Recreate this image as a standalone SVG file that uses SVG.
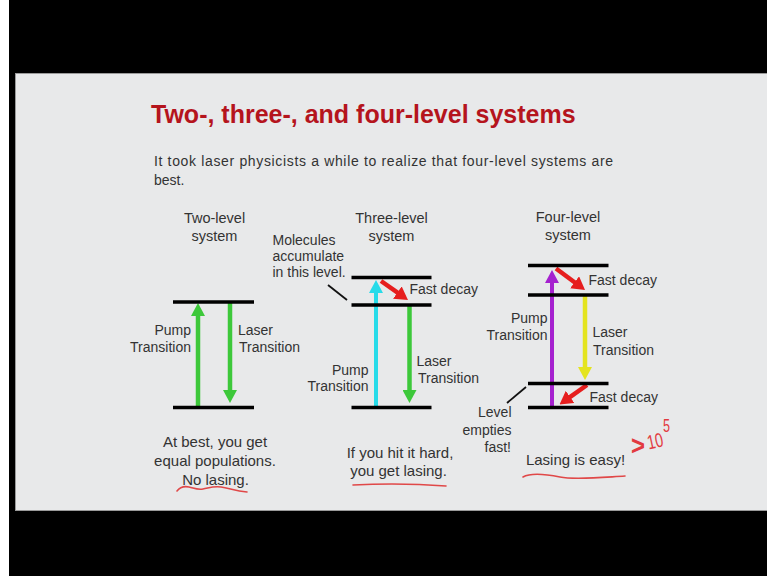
<svg xmlns="http://www.w3.org/2000/svg" width="767" height="576" viewBox="0 0 767 576">
<defs>
<style>
.t{font-family:"Liberation Sans",Arial,sans-serif;fill:#333;}
.s{font-size:14px;}
.h{font-size:14.5px;text-anchor:middle;}
.b{font-size:15px;text-anchor:middle;}
.e{text-anchor:end;}
.lvl{stroke:#000;stroke-width:3.5;fill:none;}
.ptr{stroke:#111;stroke-width:1.8;fill:none;}
.ink{stroke:#e04848;stroke-width:1.6;fill:none;stroke-linecap:round;}
.hw{font-family:"Liberation Sans",Arial,sans-serif;fill:#e23a40;}
</style>
<marker id="hG" markerUnits="userSpaceOnUse" markerWidth="13" markerHeight="14" refX="2" refY="7" orient="auto"><path d="M0,0 L13,7 L0,14 z" fill="#3dc83a"/></marker>
<marker id="hC" markerUnits="userSpaceOnUse" markerWidth="13" markerHeight="14" refX="2" refY="7" orient="auto"><path d="M0,0 L13,7 L0,14 z" fill="#27dbe9"/></marker>
<marker id="hR" markerUnits="userSpaceOnUse" markerWidth="13" markerHeight="15" refX="2" refY="7.5" orient="auto"><path d="M0,0 L13,7.5 L0,15 z" fill="#e61e1e"/></marker>
<marker id="hP" markerUnits="userSpaceOnUse" markerWidth="13" markerHeight="14" refX="2" refY="7" orient="auto"><path d="M0,0 L13,7 L0,14 z" fill="#a521cf"/></marker>
<marker id="hY" markerUnits="userSpaceOnUse" markerWidth="13" markerHeight="14" refX="2" refY="7" orient="auto"><path d="M0,0 L13,7 L0,14 z" fill="#e4e41e"/></marker>
</defs>
<rect x="0" y="0" width="767" height="576" fill="#000"/>
<rect x="0" y="0" width="9" height="576" fill="#fff"/>
<rect x="15.5" y="73.5" width="760" height="437" fill="#e8e9ea" stroke="#9a9a9a" stroke-width="1"/>

<g id="title">
<text class="t" x="151" y="123" font-size="25" font-weight="bold" style="fill:#b5141d">Two-, three-, and four-level systems</text>
<text class="t" x="154" y="165.5" font-size="14" textLength="459" lengthAdjust="spacing">It took laser physicists a while to realize that four-level systems are</text>
<text class="t" x="154" y="185" font-size="14">best.</text>
</g>

<g id="connectors">
<line x1="198" y1="407" x2="198" y2="314" stroke="#3dc83a" stroke-width="4.5" marker-end="url(#hG)"/>
<line x1="230" y1="302" x2="230" y2="392" stroke="#3dc83a" stroke-width="4.5" marker-end="url(#hG)"/>
<line x1="376" y1="407" x2="376" y2="291" stroke="#27dbe9" stroke-width="4" marker-end="url(#hC)"/>
<line x1="409.5" y1="305" x2="409.5" y2="392" stroke="#3dc83a" stroke-width="4.5" marker-end="url(#hG)"/>
<line x1="381" y1="281" x2="399" y2="293.7" stroke="#e61e1e" stroke-width="4.5" marker-end="url(#hR)"/>
<line x1="552" y1="407.5" x2="552" y2="281" stroke="#a521cf" stroke-width="4" marker-end="url(#hP)"/>
<line x1="556" y1="268.5" x2="576.2" y2="283.5" stroke="#e61e1e" stroke-width="4.5" marker-end="url(#hR)"/>
<line x1="585" y1="295" x2="585" y2="369" stroke="#e4e41e" stroke-width="4.5" marker-end="url(#hY)"/>
<line x1="587" y1="385" x2="568.5" y2="398.1" stroke="#e61e1e" stroke-width="4.5" marker-end="url(#hR)"/>
<line class="ptr" x1="328" y1="285" x2="347" y2="300"/>
<line class="ptr" x1="507" y1="403" x2="526" y2="387"/>
</g>

<g id="two-level">
<text class="t h" x="214.5" y="223">Two-level</text>
<text class="t h" x="214.5" y="241">system</text>
<line class="lvl" x1="173" y1="302" x2="254" y2="302"/>
<line class="lvl" x1="173" y1="407.5" x2="254" y2="407.5"/>
<text class="t s e" x="191" y="335">Pump</text>
<text class="t s e" x="191" y="351.5">Transition</text>
<text class="t s" x="238" y="335">Laser</text>
<text class="t s" x="239" y="351.5">Transition</text>
<text class="t b" x="215" y="447">At best, you get</text>
<text class="t b" x="215" y="465.5">equal populations.</text>
<text class="t b" x="215.5" y="485">No lasing.</text>
<path class="ink" d="M177,491 C180,487 184,486 189,487 S197,490 203,489 S213,486 221,487 S235,491 247,492"/>
</g>

<g id="three-level">
<text class="t h" x="391.5" y="223">Three-level</text>
<text class="t h" x="391.5" y="241">system</text>
<text class="t s" x="272.5" y="244.5">Molecules</text>
<text class="t s" x="272.5" y="260.5">accumulate</text>
<text class="t s" x="272.5" y="277">in this level.</text>
<line class="lvl" x1="351.5" y1="277.5" x2="431.5" y2="277.5"/>
<line class="lvl" x1="351.5" y1="305" x2="431.5" y2="305"/>
<line class="lvl" x1="351.5" y1="407.5" x2="431.5" y2="407.5"/>
<text class="t s" x="409.5" y="294">Fast decay</text>
<text class="t s e" x="368.5" y="374.5">Pump</text>
<text class="t s e" x="368.5" y="391">Transition</text>
<text class="t s" x="416.5" y="365.5">Laser</text>
<text class="t s" x="418" y="383">Transition</text>
<text class="t b" x="400" y="457.5">If you hit it hard,</text>
<text class="t b" x="398.5" y="475.5">you get lasing.</text>
<path class="ink" d="M353,485 Q400,482.5 446,486" stroke-width="2"/>
</g>

<g id="four-level">
<text class="t h" x="568" y="222">Four-level</text>
<text class="t h" x="568" y="240">system</text>
<line class="lvl" x1="528" y1="265.5" x2="608.5" y2="265.5"/>
<line class="lvl" x1="528" y1="295" x2="608.5" y2="295"/>
<line class="lvl" x1="528" y1="383.5" x2="608.5" y2="383.5"/>
<line class="lvl" x1="528" y1="407.5" x2="608.5" y2="407.5"/>
<text class="t s" x="588.5" y="285">Fast decay</text>
<text class="t s" x="589.5" y="401.5">Fast decay</text>
<text class="t s e" x="547.5" y="323">Pump</text>
<text class="t s e" x="547.5" y="340">Transition</text>
<text class="t s" x="592.5" y="337">Laser</text>
<text class="t s" x="593" y="354.5">Transition</text>
<text class="t s e" x="511.5" y="416.5">Level</text>
<text class="t s e" x="511.5" y="435">empties</text>
<text class="t s e" x="511" y="452">fast!</text>
<text class="t b" x="575.5" y="465">Lasing is easy!</text>
<path class="ink" d="M523,477 C530,473 545,474 560,477 S600,477.5 625,476"/>
<text class="hw" x="631" y="455" font-size="28" font-weight="bold" textLength="14" lengthAdjust="spacingAndGlyphs">&gt;</text>
<text class="hw" x="647" y="448" font-size="20" textLength="16" lengthAdjust="spacingAndGlyphs" transform="rotate(-12 655 441)">10</text>
<text class="hw" x="663" y="432" font-size="18" textLength="7" lengthAdjust="spacingAndGlyphs">5</text>
</g>
</svg>
